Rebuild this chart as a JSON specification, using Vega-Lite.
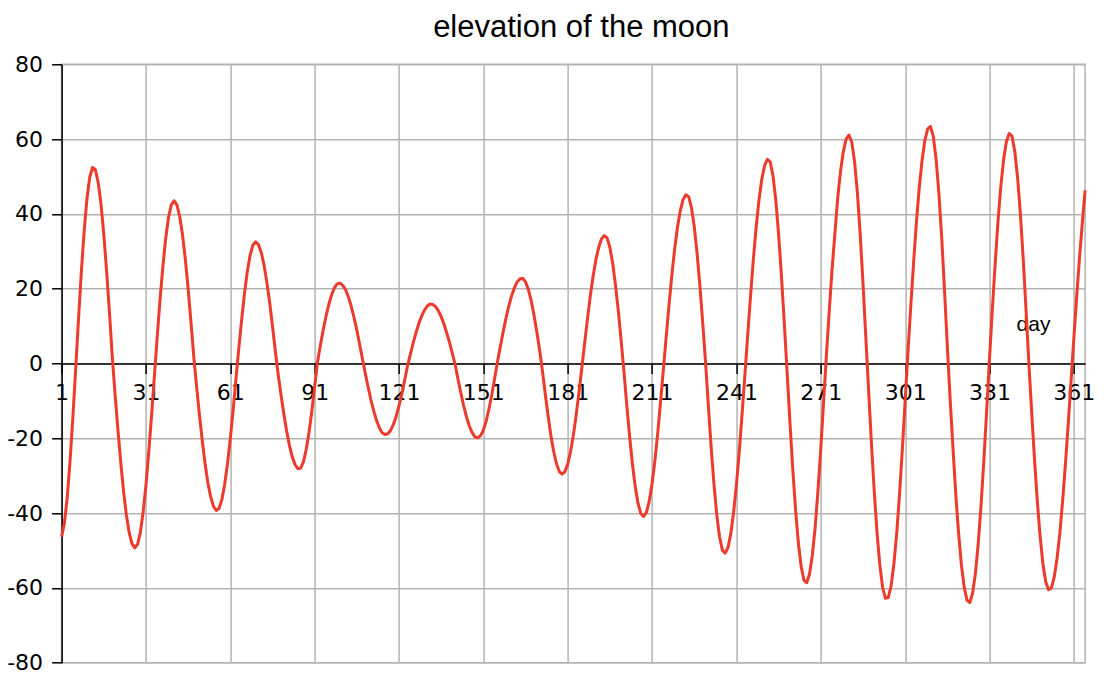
{
  "$schema": "https://vega.github.io/schema/vega-lite/v6.json",
  "width": 1023.5,
  "height": 598.4,
  "autosize": {"type": "none"},
  "padding": {"left": 61.6, "top": 64.3, "right": 18.9, "bottom": 23.3},
  "background": "white",
  "config": {"view": {"stroke": "#b3b3b3", "strokeWidth": 1.5}},
  "title": {"text": "elevation of the moon", "font": "Liberation Sans", "fontSize": 31, "fontWeight": "normal", "color": "#000000", "anchor": "middle", "frame": "group", "dx": 8, "dy": 33, "baseline": "alphabetic", "offset": 18},
  "data": {"values": [
{"day":1,"elevation":-46.3},{"day":2,"elevation":-42.7},{"day":3,"elevation":-35.8},{"day":4,"elevation":-26.1},{"day":5,"elevation":-14.5},{"day":6,"elevation":-1.5},{"day":7,"elevation":11.7},{"day":8,"elevation":24.3},{"day":9,"elevation":35.2},{"day":10,"elevation":43.9},
{"day":11,"elevation":49.8},{"day":12,"elevation":52.4},{"day":13,"elevation":51.8},{"day":14,"elevation":48.5},{"day":15,"elevation":42.7},{"day":16,"elevation":34.6},{"day":17,"elevation":24.8},{"day":18,"elevation":13.9},{"day":19,"elevation":2.1},{"day":20,"elevation":-8.1},
{"day":21,"elevation":-17.4},{"day":22,"elevation":-26.2},{"day":23,"elevation":-33.9},{"day":24,"elevation":-40.3},{"day":25,"elevation":-45.1},{"day":26,"elevation":-48.1},{"day":27,"elevation":-49.3},{"day":28,"elevation":-48.4},{"day":29,"elevation":-45.2},{"day":30,"elevation":-39.7},
{"day":31,"elevation":-32.5},{"day":32,"elevation":-23.7},{"day":33,"elevation":-13.8},{"day":34,"elevation":-3.3},{"day":35,"elevation":7.1},{"day":36,"elevation":17.0},{"day":37,"elevation":25.8},{"day":38,"elevation":33.3},{"day":39,"elevation":38.9},{"day":40,"elevation":42.4},
{"day":41,"elevation":43.5},{"day":42,"elevation":42.4},{"day":43,"elevation":39.3},{"day":44,"elevation":34.4},{"day":45,"elevation":27.9},{"day":46,"elevation":20.0},{"day":47,"elevation":11.2},{"day":48,"elevation":1.9},{"day":49,"elevation":-6.1},{"day":50,"elevation":-13.6},
{"day":51,"elevation":-20.5},{"day":52,"elevation":-26.6},{"day":53,"elevation":-31.8},{"day":54,"elevation":-35.6},{"day":55,"elevation":-38.2},{"day":56,"elevation":-39.3},{"day":57,"elevation":-38.7},{"day":58,"elevation":-36.4},{"day":59,"elevation":-32.3},{"day":60,"elevation":-26.8},
{"day":61,"elevation":-20.1},{"day":62,"elevation":-12.5},{"day":63,"elevation":-4.2},{"day":64,"elevation":3.9},{"day":65,"elevation":11.5},{"day":66,"elevation":18.5},{"day":67,"elevation":24.3},{"day":68,"elevation":28.8},{"day":69,"elevation":31.6},{"day":70,"elevation":32.5},
{"day":71,"elevation":31.8},{"day":72,"elevation":29.7},{"day":73,"elevation":26.3},{"day":74,"elevation":21.7},{"day":75,"elevation":16.3},{"day":76,"elevation":10.0},{"day":77,"elevation":3.4},{"day":78,"elevation":-2.8},{"day":79,"elevation":-8.2},{"day":80,"elevation":-13.3},
{"day":81,"elevation":-17.9},{"day":82,"elevation":-21.8},{"day":83,"elevation":-24.9},{"day":84,"elevation":-27.0},{"day":85,"elevation":-28.1},{"day":86,"elevation":-28.0},{"day":87,"elevation":-26.3},{"day":88,"elevation":-23.0},{"day":89,"elevation":-18.4},{"day":90,"elevation":-12.7},
{"day":91,"elevation":-6.2},{"day":92,"elevation":0.4},{"day":93,"elevation":4.7},{"day":94,"elevation":8.8},{"day":95,"elevation":12.5},{"day":96,"elevation":15.7},{"day":97,"elevation":18.3},{"day":98,"elevation":20.2},{"day":99,"elevation":21.3},{"day":100,"elevation":21.5},
{"day":101,"elevation":20.9},{"day":102,"elevation":19.7},{"day":103,"elevation":17.8},{"day":104,"elevation":15.3},{"day":105,"elevation":12.3},{"day":106,"elevation":8.9},{"day":107,"elevation":5.1},{"day":108,"elevation":1.2},{"day":109,"elevation":-2.6},{"day":110,"elevation":-6.3},
{"day":111,"elevation":-9.7},{"day":112,"elevation":-12.7},{"day":113,"elevation":-15.2},{"day":114,"elevation":-17.2},{"day":115,"elevation":-18.5},{"day":116,"elevation":-19.0},{"day":117,"elevation":-18.8},{"day":118,"elevation":-17.9},{"day":119,"elevation":-16.3},{"day":120,"elevation":-14.1},
{"day":121,"elevation":-11.3},{"day":122,"elevation":-8.1},{"day":123,"elevation":-4.5},{"day":124,"elevation":-0.7},{"day":125,"elevation":2.4},{"day":126,"elevation":5.4},{"day":127,"elevation":8.1},{"day":128,"elevation":10.6},{"day":129,"elevation":12.6},{"day":130,"elevation":14.2},
{"day":131,"elevation":15.3},{"day":132,"elevation":15.9},{"day":133,"elevation":15.8},{"day":134,"elevation":15.2},{"day":135,"elevation":14.1},{"day":136,"elevation":12.5},{"day":137,"elevation":10.5},{"day":138,"elevation":8.1},{"day":139,"elevation":5.5},{"day":140,"elevation":2.6},
{"day":141,"elevation":-0.4},{"day":142,"elevation":-4.3},{"day":143,"elevation":-7.9},{"day":144,"elevation":-11.3},{"day":145,"elevation":-14.3},{"day":146,"elevation":-16.7},{"day":147,"elevation":-18.5},{"day":148,"elevation":-19.6},{"day":149,"elevation":-19.9},{"day":150,"elevation":-19.3},
{"day":151,"elevation":-17.8},{"day":152,"elevation":-15.4},{"day":153,"elevation":-12.1},{"day":154,"elevation":-8.3},{"day":155,"elevation":-4.0},{"day":156,"elevation":0.4},{"day":157,"elevation":4.4},{"day":158,"elevation":8.3},{"day":159,"elevation":12.0},{"day":160,"elevation":15.2},
{"day":161,"elevation":18.0},{"day":162,"elevation":20.2},{"day":163,"elevation":21.8},{"day":164,"elevation":22.6},{"day":165,"elevation":22.8},{"day":166,"elevation":21.8},{"day":167,"elevation":19.8},{"day":168,"elevation":16.8},{"day":169,"elevation":13.0},{"day":170,"elevation":8.5},
{"day":171,"elevation":3.6},{"day":172,"elevation":-1.9},{"day":173,"elevation":-8.1},{"day":174,"elevation":-13.9},{"day":175,"elevation":-19.2},{"day":176,"elevation":-23.5},{"day":177,"elevation":-26.8},{"day":178,"elevation":-28.9},{"day":179,"elevation":-29.6},{"day":180,"elevation":-28.9},
{"day":181,"elevation":-26.9},{"day":182,"elevation":-23.6},{"day":183,"elevation":-19.2},{"day":184,"elevation":-13.8},{"day":185,"elevation":-7.7},{"day":186,"elevation":-1.3},{"day":187,"elevation":5.3},{"day":188,"elevation":11.8},{"day":189,"elevation":17.9},{"day":190,"elevation":23.2},
{"day":191,"elevation":27.7},{"day":192,"elevation":31.0},{"day":193,"elevation":33.3},{"day":194,"elevation":34.2},{"day":195,"elevation":33.6},{"day":196,"elevation":31.0},{"day":197,"elevation":26.8},{"day":198,"elevation":20.9},{"day":199,"elevation":14.0},{"day":200,"elevation":6.1},
{"day":201,"elevation":-2.2},{"day":202,"elevation":-11.1},{"day":203,"elevation":-19.4},{"day":204,"elevation":-26.8},{"day":205,"elevation":-32.9},{"day":206,"elevation":-37.4},{"day":207,"elevation":-40.1},{"day":208,"elevation":-40.9},{"day":209,"elevation":-39.8},{"day":210,"elevation":-36.8},
{"day":211,"elevation":-32.1},{"day":212,"elevation":-26.0},{"day":213,"elevation":-18.7},{"day":214,"elevation":-10.4},{"day":215,"elevation":-1.8},{"day":216,"elevation":7.0},{"day":217,"elevation":15.5},{"day":218,"elevation":23.4},{"day":219,"elevation":30.4},{"day":220,"elevation":36.3},
{"day":221,"elevation":40.7},{"day":222,"elevation":43.8},{"day":223,"elevation":45.1},{"day":224,"elevation":44.6},{"day":225,"elevation":41.7},{"day":226,"elevation":36.6},{"day":227,"elevation":29.5},{"day":228,"elevation":20.8},{"day":229,"elevation":10.9},{"day":230,"elevation":0.5},
{"day":231,"elevation":-11.1},{"day":232,"elevation":-22.3},{"day":233,"elevation":-32.2},{"day":234,"elevation":-40.4},{"day":235,"elevation":-46.4},{"day":236,"elevation":-49.9},{"day":237,"elevation":-50.7},{"day":238,"elevation":-49.2},{"day":239,"elevation":-45.5},{"day":240,"elevation":-39.8},
{"day":241,"elevation":-32.4},{"day":242,"elevation":-23.6},{"day":243,"elevation":-13.6},{"day":244,"elevation":-3.2},{"day":245,"elevation":7.5},{"day":246,"elevation":17.9},{"day":247,"elevation":27.7},{"day":248,"elevation":36.3},{"day":249,"elevation":43.6},{"day":250,"elevation":49.2},
{"day":251,"elevation":52.9},{"day":252,"elevation":54.6},{"day":253,"elevation":53.9},{"day":254,"elevation":50.2},{"day":255,"elevation":43.7},{"day":256,"elevation":34.5},{"day":257,"elevation":23.5},{"day":258,"elevation":11.1},{"day":259,"elevation":-2.0},{"day":260,"elevation":-15.3},
{"day":261,"elevation":-27.8},{"day":262,"elevation":-38.8},{"day":263,"elevation":-47.8},{"day":264,"elevation":-54.2},{"day":265,"elevation":-57.9},{"day":266,"elevation":-58.6},{"day":267,"elevation":-56.3},{"day":268,"elevation":-51.2},{"day":269,"elevation":-43.8},{"day":270,"elevation":-34.0},
{"day":271,"elevation":-22.8},{"day":272,"elevation":-10.3},{"day":273,"elevation":2.3},{"day":274,"elevation":13.9},{"day":275,"elevation":25.1},{"day":276,"elevation":34.6},{"day":277,"elevation":44.1},{"day":278,"elevation":51.3},{"day":279,"elevation":56.6},{"day":280,"elevation":60.0},
{"day":281,"elevation":61.1},{"day":282,"elevation":59.3},{"day":283,"elevation":54.1},{"day":284,"elevation":45.8},{"day":285,"elevation":34.7},{"day":286,"elevation":21.6},{"day":287,"elevation":7.3},{"day":288,"elevation":-7.1},{"day":289,"elevation":-21.2},{"day":290,"elevation":-34.1},
{"day":291,"elevation":-45.2},{"day":292,"elevation":-53.9},{"day":293,"elevation":-59.9},{"day":294,"elevation":-62.8},{"day":295,"elevation":-62.6},{"day":296,"elevation":-59.5},{"day":297,"elevation":-53.6},{"day":298,"elevation":-45.4},{"day":299,"elevation":-35.0},{"day":300,"elevation":-23.0},
{"day":301,"elevation":-10.0},{"day":302,"elevation":3.1},{"day":303,"elevation":15.3},{"day":304,"elevation":26.9},{"day":305,"elevation":37.7},{"day":306,"elevation":46.9},{"day":307,"elevation":54.2},{"day":308,"elevation":59.6},{"day":309,"elevation":62.7},{"day":310,"elevation":63.4},
{"day":311,"elevation":60.8},{"day":312,"elevation":54.7},{"day":313,"elevation":45.5},{"day":314,"elevation":33.7},{"day":315,"elevation":19.6},{"day":316,"elevation":4.6},{"day":317,"elevation":-9.5},{"day":318,"elevation":-22.5},{"day":319,"elevation":-34.9},{"day":320,"elevation":-45.3},
{"day":321,"elevation":-53.8},{"day":322,"elevation":-59.8},{"day":323,"elevation":-63.3},{"day":324,"elevation":-63.9},{"day":325,"elevation":-61.4},{"day":326,"elevation":-56.1},{"day":327,"elevation":-48.1},{"day":328,"elevation":-37.9},{"day":329,"elevation":-25.8},{"day":330,"elevation":-12.5},
{"day":331,"elevation":1.3},{"day":332,"elevation":14.3},{"day":333,"elevation":26.5},{"day":334,"elevation":37.8},{"day":335,"elevation":47.1},{"day":336,"elevation":54.4},{"day":337,"elevation":59.3},{"day":338,"elevation":61.5},{"day":339,"elevation":60.8},{"day":340,"elevation":56.7},
{"day":341,"elevation":49.6},{"day":342,"elevation":39.8},{"day":343,"elevation":27.9},{"day":344,"elevation":14.3},{"day":345,"elevation":0.0},{"day":346,"elevation":-13.0},{"day":347,"elevation":-25.6},{"day":348,"elevation":-36.7},{"day":349,"elevation":-46.2},{"day":350,"elevation":-53.6},
{"day":351,"elevation":-58.4},{"day":352,"elevation":-60.5},{"day":353,"elevation":-60.0},{"day":354,"elevation":-57.2},{"day":355,"elevation":-52.2},{"day":356,"elevation":-45.5},{"day":357,"elevation":-36.8},{"day":358,"elevation":-27.0},{"day":359,"elevation":-16.1},{"day":360,"elevation":-4.7},
{"day":361,"elevation":6.8},{"day":362,"elevation":17.9},{"day":363,"elevation":28.2},{"day":364,"elevation":37.5},{"day":365,"elevation":46.3}
  ]},
  "mark": {"type": "line", "color": "#ec3a2c", "strokeWidth": 3, "strokeJoin": "round"},
  "encoding": {
    "x": {
      "field": "day", "type": "quantitative",
      "scale": {"domain": [1, 365], "nice": false, "zero": false},
      "axis": {
        "values": [1, 31, 61, 91, 121, 151, 181, 211, 241, 271, 301, 331, 361],
        "offset": -299.2,
        "domainColor": "#000000", "domainWidth": 1.5,
        "tickColor": "#000000", "tickWidth": 1.5, "tickSize": 10,
        "labelFont": "DejaVu Sans", "labelFontSize": 22, "labelColor": "#000000", "labelPadding": 9,
        "labelFlush": false, "labelOverlap": false,
        "grid": true, "gridColor": "#b3b3b3", "gridWidth": 1.5,
        "title": "day", "titleFont": "Liberation Sans", "titleFontSize": 21, "titleFontWeight": "normal", "titleColor": "#000000",
        "titleX": 971.4, "titleY": -32.8, "titleAlign": "center", "titleBaseline": "alphabetic"
      }
    },
    "y": {
      "field": "elevation", "type": "quantitative",
      "scale": {"domain": [-80, 80], "nice": false, "zero": false},
      "axis": {
        "values": [-80, -60, -40, -20, 0, 20, 40, 60, 80],
        "labelExpr": "'' + datum.value",
        "domainColor": "#000000", "domainWidth": 1.5,
        "tickColor": "#000000", "tickWidth": 1.5, "tickSize": 10,
        "labelFont": "DejaVu Sans", "labelFontSize": 22, "labelColor": "#000000", "labelPadding": 9,
        "labelFlush": false,
        "grid": true, "gridColor": "#b3b3b3", "gridWidth": 1.5,
        "title": null
      }
    }
  }
}
